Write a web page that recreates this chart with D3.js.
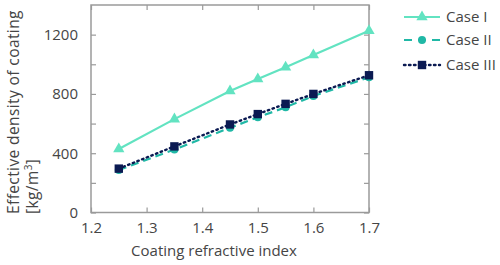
<!DOCTYPE html>
<html><head><meta charset="utf-8">
<script src="https://cdn.jsdelivr.net/npm/d3@7"></script>
<style>
body{margin:0;background:#fff;}
text{font-family:"Open Sans",sans-serif;fill:#454545;}
</style></head>
<body><svg id="c" width="500" height="265"></svg>
<script>
const xValues = [1.25, 1.35, 1.45, 1.5, 1.55, 1.6, 1.7];
const caseI   = [428, 630, 820, 900, 980, 1062, 1226];
const caseII  = [287, 425, 572, 642, 710, 786, 912];
const caseIII = [296, 446, 594, 664, 733, 800, 926];
const seriesNames = ["Case I", "Case II", "Case III"];
const xTicks = [1.2, 1.3, 1.4, 1.5, 1.6, 1.7];
const yTicks = [0, 200, 400, 600, 800, 1000, 1200];
const yLabels = [0, 400, 800, 1200];

const svg = d3.select("#c");
const L = 91, R = 369, T = 5, B = 212.5;
const FS = "15px";
const x = d3.scaleLinear().domain([1.2, 1.7]).range([L, R]);
const y = d3.scaleLinear().domain([0, 1400]).range([B, T]);

const series = [
  {name: seriesNames[0], vals: caseI, color: "#62e3c1", dash: null, marker: "tri"},
  {name: seriesNames[1], vals: caseII, color: "#20b8a6", dash: "8,5", marker: "circle"},
  {name: seriesNames[2], vals: caseIII, color: "#0b1a52", dash: "1.5,3.5", marker: "square"}
];

// frame
const frameColor = "#9a9a9a";
svg.append("rect").attr("x", L).attr("y", T).attr("width", R - L).attr("height", B - T)
  .attr("fill", "none").attr("stroke", frameColor).attr("stroke-width", 1.5);

// axes
const xAxis = svg.append("g").attr("transform", `translate(0,${B})`)
  .call(d3.axisBottom(x).tickValues(xTicks).tickSizeInner(-5).tickSizeOuter(0).tickPadding(10).tickFormat(d3.format(".1f")));
const xAxisTop = svg.append("g").attr("transform", `translate(0,${T})`)
  .call(d3.axisTop(x).tickValues(xTicks).tickSizeInner(-5).tickSizeOuter(0).tickFormat(""));
const yAxis = svg.append("g").attr("transform", `translate(${L},0)`)
  .call(d3.axisLeft(y).tickValues(yTicks).tickSizeInner(-5).tickSizeOuter(0).tickPadding(13)
    .tickFormat(d => yLabels.includes(d) ? d : ""));
const yAxisR = svg.append("g").attr("transform", `translate(${R},0)`)
  .call(d3.axisRight(y).tickValues(yTicks).tickSizeInner(-5).tickSizeOuter(0).tickFormat(""));
[xAxis, xAxisTop, yAxis, yAxisR].forEach(g => {
  g.select(".domain").remove();
  g.selectAll("line").attr("stroke", frameColor).attr("stroke-width", 1.2);
  g.selectAll("text").style("font-family", "Open Sans").style("font-size", FS).attr("fill", "#454545");
});

// lines
const line = d3.line().x((d, i) => x(xValues[i])).y(d => y(d));
function marker(g, type, cx, cy, color) {
  if (type === "tri") {
    g.append("path").attr("d", d3.symbol(d3.symbolTriangle, 55)())
      .attr("transform", `translate(${cx},${cy})`).attr("fill", color);
  } else if (type === "circle") {
    g.append("circle").attr("cx", cx).attr("cy", cy).attr("r", 4).attr("fill", color);
  } else {
    g.append("rect").attr("x", cx - 4.2).attr("y", cy - 4.2)
      .attr("width", 8.4).attr("height", 8.4).attr("fill", color);
  }
}
series.forEach(sr => {
  const g = svg.append("g");
  g.append("path").datum(sr.vals).attr("d", line).attr("fill", "none")
    .attr("stroke", sr.color).attr("stroke-width", sr.marker === "square" ? 2.4 : 2.2)
    .attr("stroke-dasharray", sr.dash).attr("stroke-linecap", sr.marker === "square" ? "round" : "butt");
  sr.vals.forEach((v, i) => marker(g, sr.marker, x(xValues[i]), y(v), sr.color));
});

// legend
const legY = [17, 40, 65];
series.forEach((sr, i) => {
  const g = svg.append("g");
  g.append("line").attr("x1", 404).attr("x2", 440).attr("y1", legY[i]).attr("y2", legY[i])
    .attr("stroke", sr.color).attr("stroke-width", sr.marker === "square" ? 2.4 : 2.2)
    .attr("stroke-dasharray", sr.marker === "circle" ? "8,6" : sr.dash)
    .attr("stroke-linecap", sr.marker === "square" ? "round" : "butt");
  marker(g, sr.marker, 422, legY[i], sr.color);
  g.append("text").attr("x", 446).attr("y", legY[i]).attr("dy", "0.35em")
    .style("font-size", FS).text(sr.name);
});

// axis titles
svg.append("text").attr("x", 214).attr("y", 256).attr("text-anchor", "middle")
  .style("font-size", FS).text("Coating refractive index");
const yt = svg.append("text").attr("transform", "translate(19,214) rotate(-90)")
  .style("font-size", "15.5px").style("letter-spacing", "0.4px");
yt.append("tspan").attr("x", 0).attr("y", 0).text("Effective density of coating");
yt.append("tspan").attr("x", 0).attr("y", 19).text("[kg/m");
yt.append("tspan").attr("dy", -6).style("font-size", "10px").text("3");
yt.append("tspan").attr("dy", 6).text("]");
</script></body></html>
